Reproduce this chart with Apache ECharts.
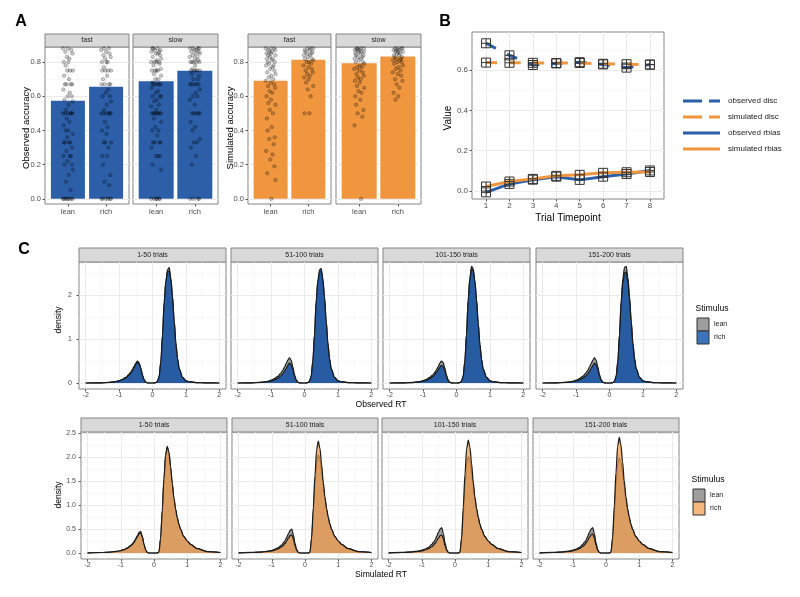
<!DOCTYPE html>
<html>
<head>
<meta charset="utf-8">
<script src="https://cdn.jsdelivr.net/npm/echarts@6/dist/echarts.min.js"></script>
<style>
  html, body { margin: 0; background: #fff; }
  #main { width: 800px; height: 597px; }
</style>
</head>
<body>
<div id="main"></div>
<script>
// ---------- panel A: accuracy by stimulus ----------
const stimCats = ['lean', 'rich'];
const speedFacets = ['fast', 'slow'];
const obsAccFast = [0.573, 0.655];
const obsAccSlow = [0.688, 0.749];
const simAccFast = [0.69, 0.813];
const simAccSlow = [0.793, 0.832];

// per-participant accuracies (the jittered dots)
const obsDotsFastLean = [0,0,0,0,0,0,0,0,0.05,0.1,0.14,0.17,0.2,0.2,0.22,0.25,0.25,0.25,0.28,0.3,0.33,0.33,0.33,0.33,0.36,0.38,0.4,0.4,0.43,0.45,0.47,0.5,0.5,0.5,0.5,0.5,0.5,0.52,0.55,0.57,0.58,0.6,0.6,0.62,0.64,0.67,0.67,0.67,0.67,0.7,0.72,0.75,0.75,0.75,0.78,0.8,0.8,0.82,0.83,0.85,0.86,0.87,0.88,0.88];
const obsDotsFastRich = [0,0,0,0,0,0,0.08,0.1,0.14,0.2,0.25,0.25,0.3,0.33,0.33,0.33,0.38,0.4,0.42,0.45,0.5,0.5,0.5,0.5,0.5,0.5,0.52,0.55,0.57,0.6,0.6,0.62,0.64,0.67,0.67,0.67,0.67,0.7,0.72,0.75,0.75,0.75,0.75,0.77,0.8,0.8,0.8,0.82,0.83,0.84,0.85,0.86,0.87,0.88,0.88];
const obsDotsSlowLean = [0,0,0,0,0,0,0.17,0.2,0.25,0.25,0.25,0.3,0.33,0.33,0.33,0.33,0.37,0.4,0.4,0.42,0.45,0.47,0.5,0.5,0.5,0.5,0.5,0.5,0.5,0.52,0.54,0.55,0.57,0.58,0.6,0.6,0.6,0.62,0.63,0.65,0.67,0.67,0.67,0.67,0.67,0.68,0.7,0.7,0.72,0.73,0.75,0.75,0.75,0.75,0.76,0.78,0.79,0.8,0.8,0.8,0.8,0.81,0.82,0.83,0.84,0.85,0.85,0.86,0.86,0.87,0.87,0.88,0.88,0.88];
const obsDotsSlowRich = [0,0,0,0,0.2,0.25,0.3,0.33,0.33,0.35,0.4,0.42,0.45,0.5,0.5,0.5,0.5,0.5,0.55,0.58,0.6,0.6,0.62,0.64,0.67,0.67,0.67,0.67,0.67,0.7,0.7,0.72,0.73,0.75,0.75,0.75,0.75,0.75,0.76,0.78,0.8,0.8,0.8,0.8,0.8,0.81,0.82,0.83,0.83,0.84,0.85,0.85,0.86,0.86,0.87,0.87,0.88,0.88,0.88,0.88];
const simDotsFastLean = [0,0.11,0.15,0.19,0.23,0.26,0.28,0.32,0.35,0.36,0.4,0.42,0.47,0.5,0.52,0.55,0.56,0.58,0.6,0.62,0.63,0.65,0.66,0.67,0.68,0.69,0.7,0.71,0.72,0.73,0.74,0.75,0.76,0.77,0.78,0.78,0.79,0.8,0.8,0.81,0.82,0.82,0.83,0.84,0.84,0.85,0.85,0.86,0.86,0.87,0.87,0.88,0.88,0.88];
const simDotsFastRich = [0.5,0.5,0.6,0.64,0.66,0.68,0.7,0.71,0.72,0.73,0.74,0.75,0.76,0.77,0.78,0.79,0.8,0.8,0.81,0.82,0.82,0.83,0.84,0.84,0.85,0.85,0.86,0.86,0.87,0.87,0.88,0.88,0.88];
const simDotsSlowLean = [0,0.43,0.48,0.5,0.52,0.55,0.58,0.6,0.62,0.63,0.65,0.66,0.68,0.69,0.7,0.71,0.72,0.73,0.74,0.75,0.76,0.77,0.77,0.78,0.79,0.8,0.8,0.81,0.82,0.82,0.83,0.83,0.84,0.84,0.85,0.85,0.86,0.86,0.86,0.87,0.87,0.87,0.88,0.88,0.88,0.88];
const simDotsSlowRich = [0.58,0.6,0.62,0.65,0.67,0.69,0.7,0.72,0.73,0.74,0.75,0.76,0.77,0.78,0.79,0.8,0.8,0.81,0.81,0.82,0.82,0.83,0.83,0.84,0.84,0.85,0.85,0.86,0.86,0.86,0.87,0.87,0.87,0.88,0.88,0.88,0.88];

// ---------- panel B: parameters over timepoints ----------
const timepoints = [1, 2, 3, 4, 5, 6, 7, 8];
const bSeriesNames = ['observed disc', 'simulated disc', 'observed rbias', 'simulated rbias'];
const obsDisc = [0.734, 0.674, 0.626, 0.634, 0.64, 0.629, 0.613, 0.628];
const simDisc = [0.638, 0.637, 0.637, 0.636, 0.636, 0.632, 0.63, 0.628];
const obsRbias = [-0.007, 0.035, 0.056, 0.071, 0.055, 0.071, 0.084, 0.102];
const simRbias = [0.022, 0.047, 0.06, 0.075, 0.08, 0.09, 0.093, 0.094];

// ---------- panel C: RT densities ----------
const trialBins = ['1-50 trials', '51-100 trials', '101-150 trials', '151-200 trials'];
const rtX = [-2,-1.6,-1.3,-1.1,-1,-0.9,-0.8,-0.7,-0.65,-0.6,-0.55,-0.5,-0.45,-0.4,-0.35,-0.3,-0.25,-0.2,-0.15,-0.1,0,0.1,0.15,0.2,0.25,0.3,0.35,0.4,0.45,0.5,0.55,0.6,0.65,0.7,0.75,0.8,0.9,1,1.1,1.3,1.6,2];
const obsLean = [
  [0,0.004,0.015,0.035,0.055,0.085,0.13,0.2,0.25,0.31,0.38,0.45,0.5,0.46,0.34,0.18,0.07,0.02,0.005,0,0, 0.01,0.04,0.15,0.48,1.08,1.83,2.32,2.58,2.62,2.38,1.95,1.4,0.9,0.55,0.32,0.13,0.05,0.03,0.01,0.003,0],
  [0,0.005,0.018,0.04,0.065,0.1,0.15,0.23,0.29,0.36,0.44,0.52,0.57,0.52,0.37,0.19,0.08,0.02,0.005,0,0, 0.01,0.04,0.15,0.48,1.07,1.82,2.28,2.5,2.55,2.33,1.92,1.38,0.89,0.55,0.32,0.13,0.05,0.03,0.01,0.003,0],
  [0,0.004,0.015,0.035,0.055,0.085,0.13,0.19,0.24,0.3,0.37,0.45,0.5,0.47,0.34,0.18,0.07,0.02,0.005,0,0, 0.01,0.04,0.15,0.49,1.1,1.88,2.38,2.65,2.6,2.32,1.9,1.36,0.88,0.54,0.31,0.13,0.05,0.03,0.01,0.003,0],
  [0,0.005,0.018,0.04,0.065,0.1,0.15,0.23,0.29,0.36,0.44,0.52,0.57,0.52,0.37,0.19,0.08,0.02,0.005,0,0, 0.01,0.04,0.15,0.49,1.1,1.87,2.37,2.63,2.65,2.4,1.97,1.42,0.91,0.56,0.32,0.13,0.05,0.03,0.01,0.003,0]
];
const obsRich = [
  [0,0.003,0.012,0.03,0.048,0.075,0.115,0.18,0.22,0.28,0.35,0.42,0.47,0.44,0.33,0.17,0.07,0.02,0.005,0,0, 0.01,0.04,0.16,0.5,1.1,1.85,2.3,2.53,2.55,2.35,1.95,1.4,0.9,0.55,0.32,0.13,0.05,0.03,0.01,0.003,0],
  [0,0.003,0.012,0.03,0.048,0.072,0.11,0.17,0.21,0.27,0.33,0.4,0.45,0.42,0.31,0.16,0.06,0.02,0.005,0,0, 0.01,0.04,0.16,0.51,1.12,1.88,2.34,2.57,2.6,2.37,1.96,1.41,0.91,0.55,0.32,0.13,0.05,0.03,0.01,0.003,0],
  [0,0.003,0.01,0.026,0.042,0.064,0.1,0.15,0.19,0.24,0.3,0.36,0.4,0.38,0.28,0.14,0.05,0.015,0.004,0,0, 0.01,0.04,0.16,0.5,1.12,1.9,2.37,2.6,2.55,2.3,1.88,1.35,0.88,0.54,0.31,0.13,0.05,0.03,0.01,0.003,0],
  [0,0.003,0.012,0.03,0.048,0.072,0.11,0.17,0.21,0.27,0.33,0.4,0.45,0.42,0.31,0.16,0.06,0.02,0.005,0,0, 0.01,0.04,0.16,0.5,1.1,1.84,2.28,2.5,2.52,2.3,1.9,1.37,0.89,0.55,0.32,0.13,0.05,0.03,0.01,0.003,0]
];
const simLean = [
  [0.003,0.01,0.02,0.035,0.05,0.072,0.105,0.16,0.19,0.235,0.3,0.36,0.43,0.45,0.34,0.18,0.06,0.01,0,0,0, 0,0.02,0.3,0.88,1.52,2.02,2.2,2.08,1.78,1.44,1.14,0.91,0.73,0.6,0.49,0.34,0.25,0.18,0.09,0.03,0.01],
  [0.004,0.012,0.023,0.04,0.055,0.08,0.115,0.17,0.21,0.26,0.33,0.4,0.47,0.5,0.38,0.2,0.07,0.01,0,0,0, 0,0.02,0.28,0.82,1.42,1.88,2.05,1.95,1.7,1.4,1.12,0.9,0.73,0.6,0.49,0.34,0.25,0.18,0.09,0.03,0.01],
  [0.004,0.012,0.024,0.042,0.058,0.083,0.12,0.18,0.22,0.27,0.35,0.43,0.5,0.53,0.4,0.21,0.07,0.01,0,0,0, 0,0.02,0.27,0.8,1.4,1.85,2.0,1.92,1.68,1.39,1.11,0.9,0.73,0.6,0.49,0.34,0.25,0.18,0.09,0.03,0.01],
  [0.004,0.012,0.024,0.042,0.058,0.083,0.12,0.18,0.22,0.27,0.35,0.43,0.5,0.53,0.4,0.21,0.07,0.01,0,0,0, 0,0.02,0.27,0.8,1.4,1.84,1.98,1.9,1.67,1.38,1.1,0.9,0.73,0.6,0.49,0.34,0.25,0.18,0.09,0.03,0.01]
];
const simRich = [
  [0.003,0.01,0.02,0.035,0.05,0.07,0.1,0.15,0.18,0.22,0.28,0.34,0.4,0.42,0.32,0.17,0.06,0.01,0,0,0, 0,0.02,0.3,0.9,1.55,2.05,2.22,2.1,1.8,1.45,1.15,0.92,0.74,0.6,0.49,0.34,0.25,0.18,0.09,0.03,0.01],
  [0.003,0.01,0.02,0.033,0.045,0.065,0.09,0.13,0.16,0.2,0.25,0.31,0.36,0.38,0.29,0.15,0.05,0.01,0,0,0, 0,0.02,0.32,0.95,1.62,2.15,2.33,2.18,1.85,1.48,1.17,0.93,0.75,0.6,0.49,0.34,0.25,0.18,0.09,0.03,0.01],
  [0.003,0.01,0.02,0.033,0.045,0.065,0.09,0.13,0.16,0.2,0.25,0.31,0.36,0.375,0.29,0.15,0.05,0.01,0,0,0, 0,0.02,0.32,0.96,1.64,2.17,2.35,2.2,1.86,1.48,1.17,0.93,0.75,0.6,0.49,0.34,0.25,0.18,0.09,0.03,0.01],
  [0.003,0.01,0.02,0.033,0.046,0.066,0.092,0.135,0.165,0.21,0.26,0.32,0.38,0.4,0.3,0.16,0.05,0.01,0,0,0, 0,0.02,0.33,0.98,1.68,2.22,2.41,2.25,1.9,1.5,1.18,0.93,0.75,0.6,0.49,0.34,0.25,0.18,0.09,0.03,0.01]
];
const stimLegend = ['lean', 'rich'];

// ---------- style ----------
const FONT = '"Liberation Sans", Arial, sans-serif';
const AXIS_TXT = '#4d4d4d';
const FRAME = '#858585';
const MAJOR = '#ebebeb';
const MINOR = '#f5f5f5';
const BLUE = '#2c5fa8';
const ORANGE = '#f0963f';
const JITTER = [-0.11,0.04,-0.03,0.12,-0.07,0.09,0,-0.13,0.07,-0.05,0.02,0.13,-0.09,0.1,-0.01,0.05,-0.12,0.08,-0.04,0.11,-0.08,0.03,-0.1,0.06,-0.02,0.13,-0.06,0.01];

const grid = [], xAxis = [], yAxis = [], series = [], graphic = [];

const steps = (a, b, s) => { const r = []; for (let v = a; v <= b + 1e-9; v += s) r.push(+v.toFixed(4)); return r; };

// ggplot-like grid lines, drawn under the marks
function gridMarkLine(g) {
  const d = [];
  const add = (key, vals, color, w) => vals.forEach(v => d.push({ [key]: v, lineStyle: { color: color, width: w, type: 'solid' } }));
  add('xAxis', g.xMinor || [], MINOR, 0.6);
  add('yAxis', g.yMinor || [], MINOR, 0.6);
  add('xAxis', g.xMajor || [], MAJOR, 1);
  add('yAxis', g.yMajor || [], MAJOR, 1);
  return { silent: true, symbol: ['none', 'none'], z: 1, animation: false, label: { show: false }, emphasis: { disabled: true }, data: d };
}

function panel(p) {
  const i = grid.length;
  grid.push({ left: p.box[0], top: p.box[1], width: p.box[2], height: p.box[3], show: true,
    backgroundColor: '#fff', borderColor: FRAME, borderWidth: 1 });
  const tick = { length: 2.5, lineStyle: { color: '#333', width: 0.8 } };
  xAxis.push({ gridIndex: i, type: 'value', min: p.x[0], max: p.x[1],
    axisLine: { show: false, onZero: false }, splitLine: { show: false },
    axisTick: Object.assign({ show: true, customValues: p.xTicks }, tick),
    axisLabel: { show: true, customValues: p.xTicks, formatter: p.xFmt, color: AXIS_TXT,
      fontSize: p.fs, fontFamily: FONT, margin: p.xMargin || 3 } });
  yAxis.push({ gridIndex: i, type: 'value', min: p.y[0], max: p.y[1],
    axisLine: { show: false, onZero: false }, splitLine: { show: false },
    axisTick: Object.assign({ show: !!p.showY, customValues: p.yTicks }, tick),
    axisLabel: { show: !!p.showY, customValues: p.yTicks, formatter: p.yFmt, color: AXIS_TXT,
      fontSize: p.fs, fontFamily: FONT, margin: p.yMargin || 4 } });
  if (p.strip) {
    graphic.push({ type: 'rect', shape: { x: p.box[0], y: p.box[1] - p.stripH, width: p.box[2], height: p.stripH },
      style: { fill: '#d9d9d9', stroke: FRAME, lineWidth: 1 } });
    graphic.push({ type: 'text', x: p.box[0] + p.box[2] / 2, y: p.box[1] - p.stripH / 2,
      style: { text: p.strip, fill: '#1a1a1a', font: p.stripFs + 'px ' + FONT, textAlign: 'center', textVerticalAlign: 'middle' } });
  }
  return i;
}

function label(txt, x, y, size, rot, color, weight) {
  graphic.push({ type: 'text', x: x, y: y, rotation: rot ? Math.PI / 2 : 0,
    style: { text: txt, fill: color || '#000', font: (weight || 'normal') + ' ' + size + 'px ' + FONT,
      textAlign: 'center', textVerticalAlign: 'middle' } });
}

// ---------- build panel A ----------
const aBoxes = [[45, 47, 84, 157], [133, 47, 85, 157], [248, 47, 83, 157], [336, 47, 85, 157]];
const aBars = [obsAccFast, obsAccSlow, simAccFast, simAccSlow];
const aDots = [[obsDotsFastLean, obsDotsFastRich], [obsDotsSlowLean, obsDotsSlowRich],
  [simDotsFastLean, simDotsFastRich], [simDotsSlowLean, simDotsSlowRich]];
aBoxes.forEach((box, k) => {
  const gi = panel({ box: box, x: [-0.6, 1.6], y: [-0.03, 0.888], fs: 7.5,
    xTicks: [0, 1], xFmt: v => stimCats[v], yTicks: [0, 0.2, 0.4, 0.6, 0.8], yFmt: v => v.toFixed(1),
    showY: k % 2 === 0, xMargin: 4, strip: speedFacets[k % 2], stripH: 13, stripFs: 7 });
  series.push({ type: 'bar', xAxisIndex: gi, yAxisIndex: gi, barWidth: Math.round(0.9 * box[2] / 2.2),
    data: aBars[k].map((v, c) => [c, v]), itemStyle: { color: k < 2 ? BLUE : ORANGE },
    markLine: gridMarkLine({ xMajor: [0, 1], yMajor: [0, 0.2, 0.4, 0.6, 0.8], yMinor: [0.1, 0.3, 0.5, 0.7] }) });
  const pts = [];
  aDots[k].forEach((arr, c) => arr.forEach((v, n) => pts.push([c + JITTER[(n + 5 * k + 11 * c) % JITTER.length], v])));
  series.push({ type: 'scatter', xAxisIndex: gi, yAxisIndex: gi, data: pts, symbolSize: 3.5, z: 3,
    itemStyle: { color: 'rgba(0,0,0,0.25)', borderColor: 'rgba(0,0,0,0.55)', borderWidth: 0.5 } });
});
label('Observed accuracy', 26, 128, 9.5, true);
label('Simulated accuracy', 230, 128, 9.5, true);
label('A', 21, 22, 16, false, '#000', 'bold');

// ---------- build panel B ----------
const bGi = panel({ box: [472, 32, 192, 167], x: [0.4, 8.6], y: [-0.04, 0.79], fs: 8,
  xTicks: timepoints, xFmt: v => String(v), yTicks: [0, 0.2, 0.4, 0.6], yFmt: v => v.toFixed(1),
  showY: true, xMargin: 3, yMargin: 4 });
const boxPlus = 'path://M0,0L10,0L10,10L0,10Z M5,0L5,10 M0,5L10,5';
const bData = [obsDisc, simDisc, obsRbias, simRbias];
const bColors = [BLUE, ORANGE, BLUE, ORANGE];
bData.forEach((vals, k) => {
  const s = { type: 'line', name: bSeriesNames[k], xAxisIndex: bGi, yAxisIndex: bGi,
    data: vals.map((v, n) => [timepoints[n], v]), symbol: boxPlus, symbolSize: 9, showSymbol: true,
    lineStyle: { color: bColors[k], width: 3, type: k < 2 ? [11, 12.6] : 'solid', cap: 'butt' },
    itemStyle: { color: 'rgba(0,0,0,0)', borderColor: '#333', borderWidth: 1 }, z: 2 + k };
  if (k === 0) s.markLine = gridMarkLine({ xMajor: timepoints, yMajor: [0, 0.2, 0.4, 0.6], yMinor: [0.1, 0.3, 0.5, 0.7] });
  series.push(s);
});
label('Value', 448, 118, 10, true);
label('Trial Timepoint', 568, 218, 10);
label('B', 445, 22, 16, false, '#000', 'bold');
bSeriesNames.forEach((nm, k) => {
  const y = 101 + 16 * k;
  graphic.push({ type: 'line', shape: { x1: 683, y1: y, x2: 720, y2: y },
    style: { stroke: bColors[k], lineWidth: 3, lineDash: k < 2 ? [19, 7] : null } });
  graphic.push({ type: 'text', x: 728, y: y, style: { text: nm, fill: '#1a1a1a', font: '8px ' + FONT, textVerticalAlign: 'middle' } });
});

// ---------- build panel C ----------
const cRows = [
  { lefts: [79, 231, 383, 536], width: 147, top: 262, y: [-0.136, 2.75], yTicks: [0, 1, 2], yMajor: [0, 1, 2], yMinor: [0.5, 1.5, 2.5],
    yFmt: v => String(v), lean: obsLean, rich: obsRich, richColor: 'rgba(0,70,163,0.75)', key: '#3b74ba',
    title: 'Observed RT', titleY: 405, densY: 320, legX: 696, legY: 309, yMargin: 7 },
  { lefts: [81, 232, 382, 533], width: 146, top: 432, y: [-0.125, 2.52], yTicks: [0, 0.5, 1, 1.5, 2, 2.5], yMajor: steps(0, 2.5, 0.5), yMinor: steps(0.25, 2.25, 0.5),
    yFmt: v => v.toFixed(1), lean: simLean, rich: simRich, richColor: 'rgba(240,156,78,0.75)', key: '#f5b77e',
    title: 'Simulated RT', titleY: 575, densY: 495, legX: 692, legY: 480, yMargin: 5 }
];
cRows.forEach(row => {
  trialBins.forEach((bin, j) => {
    const gi = panel({ box: [row.lefts[j], row.top, row.width, 127], x: [-2.2, 2.2], y: row.y, fs: 7,
      xTicks: [-2, -1, 0, 1, 2], xFmt: v => String(v), yTicks: row.yTicks, yFmt: row.yFmt,
      showY: j === 0, xMargin: 3, yMargin: row.yMargin, strip: bin, stripH: 14, stripFs: 7 });
    const common = { type: 'line', xAxisIndex: gi, yAxisIndex: gi, showSymbol: false, smooth: 0.3,
      smoothMonotone: 'x', lineStyle: { color: '#1a1a1a', width: 1.2 } };
    series.push(Object.assign({}, common, { data: rtX.map((x, n) => [x, row.lean[j][n]]),
      areaStyle: { color: '#9e9e9e', opacity: 1 }, z: 2,
      markLine: gridMarkLine({ xMajor: [-2, -1, 0, 1, 2], xMinor: [-1.5, -0.5, 0.5, 1.5], yMajor: row.yMajor, yMinor: row.yMinor }) }));
    series.push(Object.assign({}, common, { data: rtX.map((x, n) => [x, row.rich[j][n]]),
      areaStyle: { color: row.richColor, opacity: 1 }, z: 3 }));
  });
  label(row.title, 381, row.titleY, 8.6);
  label('density', 59, row.densY, 8.6, true);
  label('Stimulus', row.legX + 16, row.legY, 8.6);
  stimLegend.forEach((nm, k) => {
    const y = row.legY + 9 + 13 * k;
    graphic.push({ type: 'rect', shape: { x: row.legX + 1, y: y, width: 12, height: 13 },
      style: { fill: k === 0 ? '#9e9e9e' : row.key, stroke: '#333', lineWidth: 1 } });
    graphic.push({ type: 'text', x: row.legX + 18, y: y + 6.5, style: { text: nm, fill: '#1a1a1a', font: '7px ' + FONT, textVerticalAlign: 'middle' } });
  });
});
label('C', 24, 250, 16, false, '#000', 'bold');

const chart = echarts.init(document.getElementById('main'), null, { renderer: 'canvas' });
chart.setOption({
  animation: false,
  backgroundColor: '#fff',
  grid: grid,
  xAxis: xAxis,
  yAxis: yAxis,
  series: series,
  graphic: { elements: graphic }
});
</script>
</body>
</html>
